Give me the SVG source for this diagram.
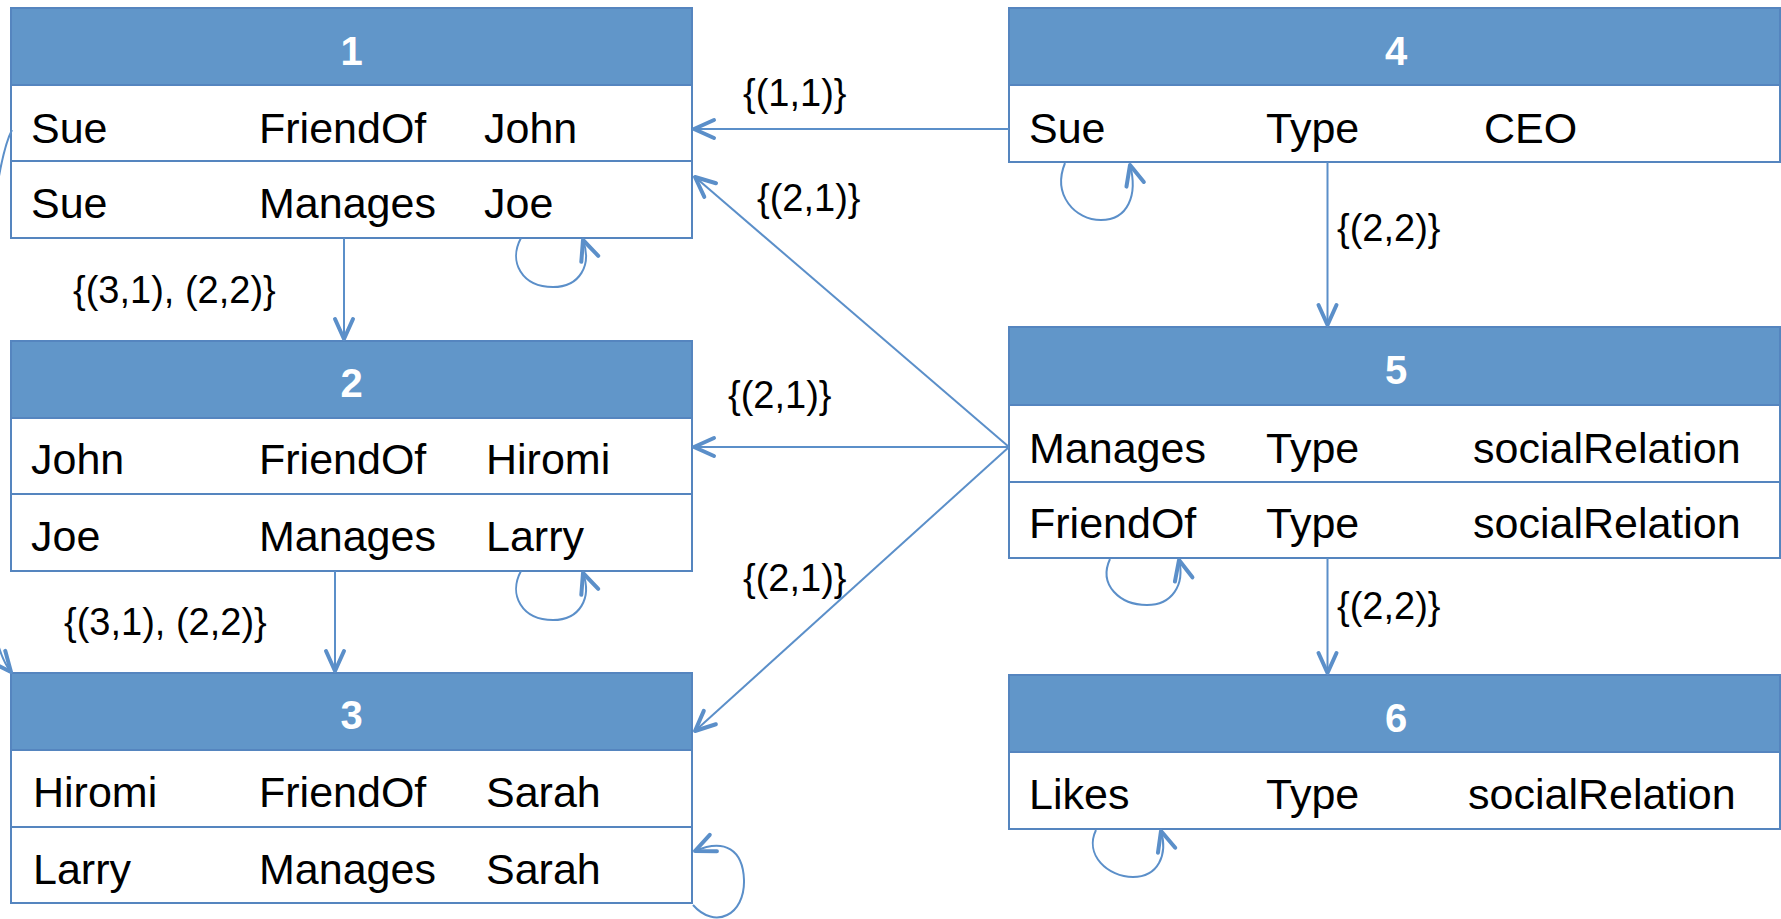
<svg xmlns="http://www.w3.org/2000/svg" width="1781" height="919" viewBox="0 0 1781 919">
<defs>
<style>
.hdr{fill:#6196C9;stroke:#5585BF;stroke-width:2}
.row{fill:#FFFFFF;stroke:#5585BF;stroke-width:2}
.num{font-family:"Liberation Sans",Arial,sans-serif;font-weight:bold;font-size:40px;fill:#FFFFFF;text-anchor:middle}
.txt{font-family:"Liberation Sans",Arial,sans-serif;font-size:43px;fill:#000000}
.lbl{font-family:"Liberation Sans",Arial,sans-serif;font-size:38px;fill:#000000}
.con{fill:none;stroke:#5B8FC9;stroke-width:2;marker-end:url(#arr)}
</style>
<marker id="arr" markerUnits="userSpaceOnUse" markerWidth="40" markerHeight="40" viewBox="-30 -20 40 40" refX="0" refY="0" orient="auto" overflow="visible">
<path d="M-20,-9 L0,0 L-20,9" fill="none" stroke="#5B8FC9" stroke-width="4" stroke-linecap="round" stroke-linejoin="round"/>
</marker>
</defs>
<rect width="1781" height="919" fill="#FFFFFF"/>

<g id="node1">
<rect class="hdr" x="11" y="8" width="681" height="77"/>
<rect class="row" x="11" y="85" width="681" height="76"/>
<rect class="row" x="11" y="161" width="681" height="77"/>
<text class="num" x="351.5" y="65">1</text>
<text class="txt" x="31" y="143">Sue</text><text class="txt" x="259" y="143">FriendOf</text><text class="txt" x="484" y="143">John</text>
<text class="txt" x="31" y="218">Sue</text><text class="txt" x="259" y="218">Manages</text><text class="txt" x="484" y="218">Joe</text>
</g>

<g id="node2">
<rect class="hdr" x="11" y="341" width="681" height="77"/>
<rect class="row" x="11" y="418" width="681" height="76"/>
<rect class="row" x="11" y="494" width="681" height="77"/>
<text class="num" x="351.5" y="397">2</text>
<text class="txt" x="31" y="474">John</text><text class="txt" x="259" y="474">FriendOf</text><text class="txt" x="486" y="474">Hiromi</text>
<text class="txt" x="31" y="551">Joe</text><text class="txt" x="259" y="551">Manages</text><text class="txt" x="486" y="551">Larry</text>
</g>

<g id="node3">
<rect class="hdr" x="11" y="673" width="681" height="77"/>
<rect class="row" x="11" y="750" width="681" height="77"/>
<rect class="row" x="11" y="827" width="681" height="76"/>
<text class="num" x="351.5" y="729">3</text>
<text class="txt" x="33" y="807">Hiromi</text><text class="txt" x="259" y="807">FriendOf</text><text class="txt" x="486" y="807">Sarah</text>
<text class="txt" x="33" y="884">Larry</text><text class="txt" x="259" y="884">Manages</text><text class="txt" x="486" y="884">Sarah</text>
</g>

<g id="node4">
<rect class="hdr" x="1009" y="8" width="771" height="77"/>
<rect class="row" x="1009" y="85" width="771" height="77"/>
<text class="num" x="1396" y="65">4</text>
<text class="txt" x="1029" y="143">Sue</text><text class="txt" x="1266" y="143">Type</text><text class="txt" x="1484" y="143">CEO</text>
</g>

<g id="node5">
<rect class="hdr" x="1009" y="327" width="771" height="78"/>
<rect class="row" x="1009" y="405" width="771" height="77"/>
<rect class="row" x="1009" y="482" width="771" height="76"/>
<text class="num" x="1396" y="384">5</text>
<text class="txt" x="1029" y="463">Manages</text><text class="txt" x="1266" y="463">Type</text><text class="txt" x="1473" y="463">socialRelation</text>
<text class="txt" x="1029" y="538">FriendOf</text><text class="txt" x="1266" y="538">Type</text><text class="txt" x="1473" y="538">socialRelation</text>
</g>

<g id="node6">
<rect class="hdr" x="1009" y="675" width="771" height="77"/>
<rect class="row" x="1009" y="752" width="771" height="77"/>
<text class="num" x="1396" y="732">6</text>
<text class="txt" x="1029" y="809">Likes</text><text class="txt" x="1266" y="809">Type</text><text class="txt" x="1468" y="809">socialRelation</text>
</g>

<g id="connectors">
<path class="con" d="M1009,129 L694,129"/>
<path class="con" d="M1009,447 L695,177"/>
<path class="con" d="M1009,447 L694,447"/>
<path class="con" d="M1009,447 L695,731"/>
<path class="con" d="M344,238 L344,339"/>
<path class="con" d="M335,571 L335,671"/>
<path class="con" d="M1327.5,162 L1327.5,325"/>
<path class="con" d="M1327.5,558 L1327.5,673"/>
<path class="con" d="M12,130 C-20,190 -40,610 11,672"/>
<path class="con" d="M521,238 C508,262 522,287 553,287 C580,287 592,265 583,240"/>
<path class="con" d="M521,571 C508,595 522,620 553,620 C580,620 592,598 583,573"/>
<path class="con" d="M1065,163 C1052,195 1075,220 1101,220 C1128,220 1138,195 1130,165"/>
<path class="con" d="M1110,559 C1098,585 1120,605 1147,605 C1172,605 1185,585 1179,560"/>
<path class="con" d="M1096,830 C1084,855 1108,877 1133,877 C1158,877 1168,855 1161,831"/>
<path class="con" d="M693,905 C715,930 745,915 744,880 C743,850 725,838 695,851"/>
<text class="lbl" x="743" y="106">{(1,1)}</text>
<text class="lbl" x="757" y="211">{(2,1)}</text>
<text class="lbl" x="728" y="408">{(2,1)}</text>
<text class="lbl" x="743" y="591">{(2,1)}</text>
<text class="lbl" x="73" y="303">{(3,1), (2,2)}</text>
<text class="lbl" x="64" y="635">{(3,1), (2,2)}</text>
<text class="lbl" x="1337" y="241">{(2,2)}</text>
<text class="lbl" x="1337" y="619">{(2,2)}</text>
</g>
</svg>
